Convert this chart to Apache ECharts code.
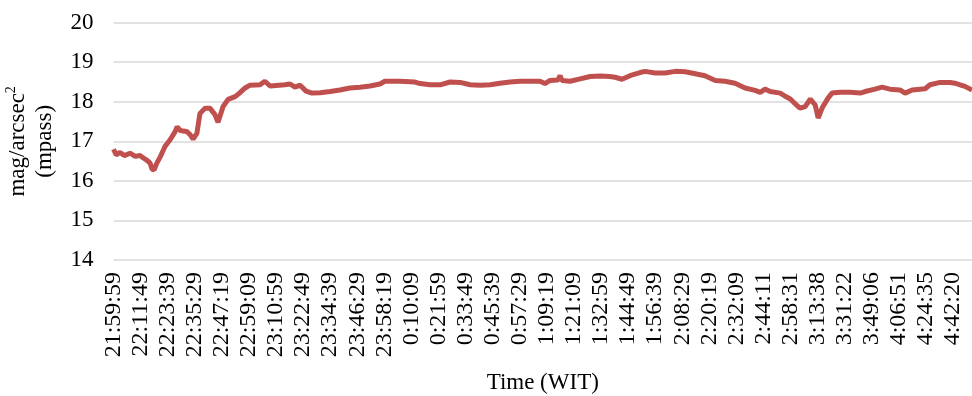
<!DOCTYPE html>
<html>
<head>
<meta charset="utf-8">
<script src="https://cdn.jsdelivr.net/npm/echarts@6/dist/echarts.min.js"></script>
<style>
  html, body { margin: 0; padding: 0; background: #fff; }
  #chart { width: 972px; height: 396px; }
</style>
</head>
<body>
<div id="chart"></div>
<script>
// tick labels on the x axis (one every 11:50 of samples)
const timeLabels = [
  '21:59:59', '22:11:49', '22:23:39', '22:35:29', '22:47:19', '22:59:09',
  '23:10:59', '23:22:49', '23:34:39', '23:46:29', '23:58:19', '0:10:09',
  '0:21:59', '0:33:49', '0:45:39', '0:57:29', '1:09:19', '1:21:09',
  '1:32:59', '1:44:49', '1:56:39', '2:08:29', '2:20:19', '2:32:09',
  '2:44:11', '2:58:31', '3:13:38', '3:31:22', '3:49:06', '4:06:51',
  '4:24:35', '4:42:20'
]

// sample position, in tick-label units
const pos = [
  0.00, 0.10, 0.24, 0.40, 0.61, 0.80, 0.98, 1.10, 1.24, 1.35,
  1.42, 1.50, 1.60, 1.72, 1.90, 2.09, 2.27, 2.35, 2.45, 2.57,
  2.70, 2.83, 2.94, 3.08, 3.19, 3.38, 3.56, 3.75, 3.86, 4.04,
  4.23, 4.49, 4.67, 4.86, 5.04, 5.41, 5.59, 5.78, 6.33, 6.52,
  6.70, 6.89, 7.11, 7.33, 7.63, 8.00, 8.36, 8.73, 9.10, 9.47,
  9.84, 10.02, 10.58, 11.13, 11.32, 11.69, 12.06, 12.43, 12.80, 13.17,
  13.54, 13.91, 14.27, 14.64, 15.01, 15.38, 15.75, 15.93, 16.12, 16.41,
  16.49, 16.56, 16.86, 17.23, 17.60, 17.97, 18.33, 18.52, 18.78, 19.07,
  19.44, 19.63, 20.00, 20.37, 20.74, 21.11, 21.48, 21.84, 22.22, 22.58,
  22.95, 23.32, 23.69, 23.88, 24.06, 24.25, 24.62, 24.80, 24.99, 25.17,
  25.35, 25.54, 25.73, 25.91, 26.02, 26.17, 26.39, 26.53, 26.83, 27.20,
  27.57, 27.75, 28.12, 28.38, 28.67, 29.04, 29.23, 29.49, 29.97, 30.15,
  30.52, 30.89, 31.07, 31.26, 31.44, 31.70
]

// sky brightness, mag/arcsec^2
const mag = [
  16.80, 16.66, 16.72, 16.64, 16.70, 16.62, 16.64, 16.58, 16.52, 16.45,
  16.30, 16.28, 16.45, 16.60, 16.87, 17.04, 17.24, 17.37, 17.28, 17.26,
  17.25, 17.17, 17.06, 17.20, 17.70, 17.84, 17.84, 17.67, 17.48, 17.87,
  18.06, 18.13, 18.23, 18.35, 18.42, 18.43, 18.52, 18.40, 18.43, 18.45,
  18.37, 18.42, 18.27, 18.22, 18.23, 18.26, 18.30, 18.35, 18.37, 18.40,
  18.45, 18.52, 18.52, 18.50, 18.46, 18.43, 18.43, 18.50, 18.49, 18.43,
  18.42, 18.43, 18.47, 18.50, 18.52, 18.52, 18.52, 18.46, 18.54, 18.55,
  18.66, 18.54, 18.52, 18.58, 18.64, 18.65, 18.64, 18.62, 18.57, 18.66,
  18.74, 18.77, 18.73, 18.73, 18.77, 18.76, 18.71, 18.66, 18.54, 18.52,
  18.47, 18.35, 18.29, 18.24, 18.32, 18.26, 18.22, 18.14, 18.07, 17.95,
  17.84, 17.88, 18.07, 17.92, 17.59, 17.85, 18.10, 18.22, 18.24, 18.24,
  18.22, 18.26, 18.32, 18.37, 18.32, 18.30, 18.22, 18.30, 18.33, 18.43,
  18.49, 18.49, 18.47, 18.43, 18.39, 18.30
]

const font = "'Liberation Serif', 'Times New Roman', serif"
const chart = echarts.init(document.getElementById('chart'))

chart.setOption({
  animation: false,
  backgroundColor: '#ffffff',
  grid: { left: 113.5, right: 0, top: 22.7, bottom: 136, outerBoundsMode: 'none' },
  xAxis: {
    type: 'value',
    min: 0,
    max: 31.7,
    interval: 1,
    name: 'Time (WIT)',
    nameLocation: 'middle',
    nameGap: 111,
    nameTextStyle: { fontFamily: font, fontSize: 23, color: '#000' },
    axisLine: { show: false },
    axisTick: { show: false },
    splitLine: { show: false },
    axisLabel: {
      rotate: 90,
      margin: 12,
      showMaxLabel: false,
      fontFamily: font,
      fontSize: 24,
      color: '#000',
      formatter: function (v) {
        return Number.isInteger(v) && timeLabels[v] ? timeLabels[v] : ''
      }
    }
  },
  yAxis: {
    type: 'value',
    min: 14,
    max: 20,
    interval: 1,
    name: '{t|mag/arcsec}{sup|2}\n{t|(mpass)}',
    nameLocation: 'middle',
    nameGap: 55,
    nameRotate: 90,
    nameTextStyle: {
      fontFamily: font,
      color: '#000',
      lineHeight: 27,
      rich: {
        t: { fontFamily: font, fontSize: 23, color: '#000', lineHeight: 27 },
        sup: { fontFamily: font, fontSize: 14, color: '#000', verticalAlign: 'top', lineHeight: 27, padding: [0, 0, 10, 0] }
      }
    },
    axisLine: { show: false },
    axisTick: { show: false },
    axisLabel: { margin: 20, fontFamily: font, fontSize: 23, color: '#000' },
    splitLine: { lineStyle: { color: '#d9d9d9', width: 1.5 } }
  },
  series: [{
    type: 'line',
    data: pos.map((p, i) => [p, mag[i]]),
    showSymbol: false,
    lineStyle: { color: '#c0504d', width: 5 },
    itemStyle: { color: '#c0504d' }
  }]
})
</script>
</body>
</html>
